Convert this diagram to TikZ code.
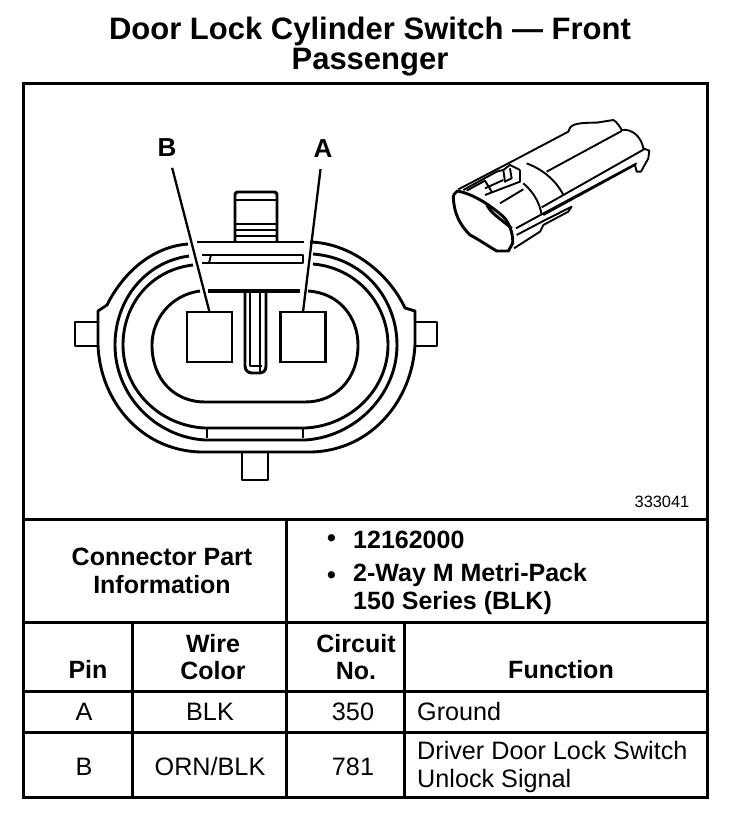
\documentclass[tikz,border=0pt]{standalone}
\usepackage{fontspec}
\setmainfont{Liberation Sans}
\usetikzlibrary{positioning}
\tikzset{
   ruleLine/.style={draw=black, line width=3pt},
   bodyLine/.style={draw=black, line width=2.9pt, line join=round},
   thinLine/.style={draw=black, line width=1.9pt, line join=round},
   pinBox/.style={draw=black, line width=2.4pt, shape=rectangle, minimum width=45pt, minimum height=50pt, inner sep=0pt, outer sep=0pt},
   pinLabel/.style={font=\bfseries\fontsize{26}{26}\selectfont, inner sep=1pt},
   leaderLine/.style={draw=black, line width=2.3pt, shorten <=10pt},
   titleText/.style={font=\bfseries\fontsize{31}{30}\selectfont, align=center},
   headText/.style={font=\bfseries\fontsize{25}{27.5}\selectfont, align=center, inner sep=0pt},
   bodyText/.style={font=\fontsize{25.2}{27.5}\selectfont, align=left, inner sep=0pt},
}
\begin{document}
\begin{tikzpicture}[x=1pt,y=-1pt]
  \useasboundingbox (0,0) rectangle (752,822);
  %
  \node[titleText] (title) at (370,47) {Door Lock Cylinder Switch — Front\\Passenger};
  %
  % frame and table rules
  \draw[ruleLine] (23,83) rectangle (707,797);
  \draw[ruleLine] (23,519) -- (707,519);
  \draw[ruleLine] (23,622) -- (707,622);
  \draw[ruleLine] (23,691) -- (707,691);
  \draw[ruleLine] (23,732) -- (707,732);
  \draw[ruleLine] (286,519) -- (286,797);
  \draw[ruleLine] (132,622) -- (132,797);
  \draw[ruleLine] (404,622) -- (404,797);
  %
  % tabs
  \draw[bodyLine] (235,242) -- (235,194) -- (237,192) -- (275,192) -- (277,194) -- (277,242);
  \draw[thinLine] (236,200) -- (276,200);
  \draw[bodyLine] (236,224) -- (276,224);
  \draw[thinLine] (236,230) -- (276,230);
  \draw[thinLine] (236,236) -- (276,236);
  \draw[bodyLine] (98,322) -- (75,322) -- (75,346) -- (98,346);
  \draw[bodyLine] (415,322) -- (437,322) -- (437,346) -- (415,346);
  \draw[bodyLine] (242,452) -- (242,480) -- (268,480) -- (268,452);
  %
  % outer shell
  \draw[bodyLine] (188,244) .. controls (150,247) and (122,275) .. (107,305) -- (98,311) -- (98,345)
     .. controls (100,400) and (140,450) .. (200,452) -- (312,452)
     .. controls (372,450) and (412,400) .. (415,345) -- (415,311) -- (405,308)
     .. controls (388,272) and (350,243) .. (310,242);
  \draw[bodyLine] (197,242) -- (304,242);
  % rings
  \draw[bodyLine] (189,256) .. controls (145,262) and (115,300) .. (115,345)
     .. controls (115,395) and (155,437) .. (205,440) -- (305,440)
     .. controls (355,437) and (397,395) .. (397,345)
     .. controls (397,300) and (365,258) .. (313,254);
  \draw[bodyLine] (193,265) .. controls (150,270) and (123,305) .. (123,345)
     .. controls (123,390) and (160,426) .. (205,428) -- (305,428)
     .. controls (350,426) and (388,390) .. (388,345)
     .. controls (388,305) and (358,268) .. (313,264);
  % top and bottom rails
  \draw[thinLine] (202,255) -- (303,255) -- (303,263) -- (202,263);
  \draw[thinLine] (202,255) -- (211,255) -- (209,263);
  \draw[thinLine] (207,428) -- (207,438);
  \draw[thinLine] (303,428) -- (303,438);
  % inner opening
  \draw[bodyLine] (200,291) .. controls (170,295) and (152,320) .. (152,345)
     .. controls (152,380) and (175,402) .. (205,402) -- (305,402)
     .. controls (335,402) and (358,380) .. (358,345)
     .. controls (358,318) and (340,293) .. (308,291);
  \draw[draw=black, line width=4pt] (208,291) -- (300,291);
  % key
  \draw[bodyLine] (245,291) -- (245,366) .. controls (245,371) and (249,373) .. (252,373) -- (259,373)
     .. controls (263,373) and (266,371) .. (266,366) -- (266,291);
  \draw[thinLine] (250,292) -- (250,366) -- (262,366);
  \draw[thinLine] (260,292) -- (260,372);
  %
  % pins and their leaders
  \node[pinBox] (pinB) at (209.5,337) {};
  \node[pinBox] (pinA) at (303,337) {};
  \node[pinLabel] (labelB) at (167,148) {B};
  \node[pinLabel] (labelA) at (323,149) {A};
  \draw[leaderLine] (labelB) -- (pinB.north);
  \draw[leaderLine] (labelA) -- (pinA.north);
  %
  % connector in perspective
  \begin{scope}[shift={(440,120)},x=.3333pt,y=-.3333pt]
    \draw[bodyLine] (40,225) -- (52,213) .. controls (100,222) and (150,255) .. (190,290)
       .. controls (210,310) and (220,345) .. (218,370) -- (205,393) -- (170,393)
       .. controls (140,375) and (110,355) .. (90,345) .. controls (65,320) and (40,285) .. (40,225);
    \draw[bodyLine] (140,250) .. controls (145,275) and (180,295) .. (215,325);
    \draw[thinLine] (55,208) -- (205,130) -- (385,35) .. controls (390,15) and (400,8) .. (470,8) -- (520,0)
       .. controls (530,5) and (540,20) .. (545,30) .. controls (580,25) and (605,55) .. (610,85)
       -- (628,92) -- (625,115) -- (603,155) -- (590,155) -- (585,135) -- (310,285);
    \draw[thinLine] (320,155) -- (545,33);
    \draw[thinLine] (305,262) -- (612,88);
    \draw[thinLine] (228,325) -- (305,283) -- (590,130);
    \draw[thinLine] (230,345) -- (310,303) -- (395,260) -- (385,275) -- (310,315) -- (300,335) -- (222,385);
    \draw[thinLine] (260,130) .. controls (300,145) and (345,175) .. (370,225);
    \draw[thinLine] (240,150) -- (240,185) -- (135,225);
    \draw[thinLine] (240,150) -- (210,135) -- (190,150) -- (195,185) -- (215,175) -- (210,145);
    \draw[thinLine] (250,190) .. controls (280,215) and (300,250) .. (305,285);
    \draw[thinLine] (180,250) -- (250,208);
    \draw[thinLine] (70,210) -- (170,155) -- (190,150);
    \draw[thinLine] (80,212) -- (135,182) -- (155,215);
    \draw[thinLine] (135,205) -- (190,180);
  \end{scope}
  %
  \node[font=\fontsize{16.4}{16.4}\selectfont, inner sep=0pt] (partNumber) at (662,502) {333041};
  %
  % table texts
  \node[headText] (partHead) at (162,571) {Connector Part\\Information};
  \node[headText, anchor=base west] (partNo) at (353,548) {12162000};
  \node[headText, anchor=west, align=left] (partName) at (353,589) {2-Way M Metri-Pack\\150 Series (BLK)};
  \node[headText, anchor=base west] (bulletOne) at (327,546) {•};
  \node[headText, anchor=base west] (bulletTwo) at (327,583) {•};
  %
  \node[headText, anchor=base] (pinHead) at (88,678) {Pin};
  \node[headText] (wireHead) at (213,657) {Wire\\Color};
  \node[headText] (circuitHead) at (356,657) {Circuit\\No.};
  \node[headText, anchor=base] (functionHead) at (561,678) {Function};
  %
  \node[bodyText, anchor=base] (pinA1) at (84,720) {A};
  \node[bodyText, anchor=base] (wireA) at (210,720) {BLK};
  \node[bodyText, anchor=base] (circuitA) at (353,720) {350};
  \node[bodyText, anchor=base west] (funcA) at (417,720) {Ground};
  \node[bodyText, anchor=base] (pinB1) at (84,775) {B};
  \node[bodyText, anchor=base] (wireB) at (210,775) {ORN/BLK};
  \node[bodyText, anchor=base] (circuitB) at (353,775) {781};
  \node[bodyText, anchor=west] (funcB) at (417,767) {Driver Door Lock Switch\\Unlock Signal};
\end{tikzpicture}
\end{document}
